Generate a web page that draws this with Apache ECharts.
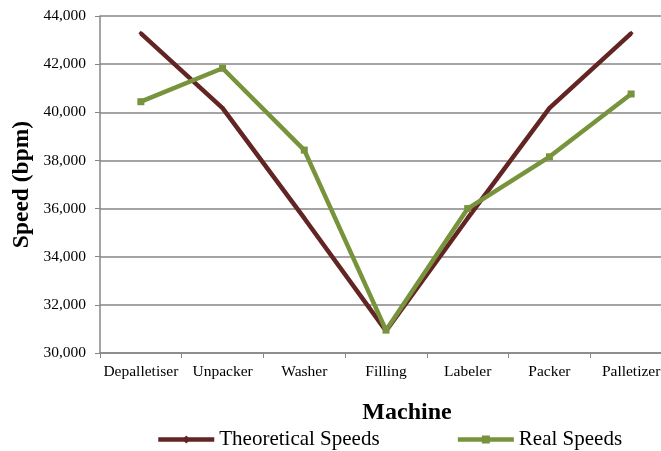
<!DOCTYPE html>
<html><head><meta charset="utf-8">
<script src="https://cdn.jsdelivr.net/npm/echarts@6/dist/echarts.min.js"></script>
<style>html,body{margin:0;padding:0;background:#fff}#c{width:661px;height:451px}</style>
</head><body><div id="c"></div>
<script>
const categories = ['Depalletiser','Unpacker','Washer','Filling','Labeler','Packer','Palletizer'];
const theoretical = [43280, 40170, 35600, 30920, 35600, 40170, 43280];
const real = [40440, 41830, 38430, 30950, 36000, 38150, 40760];
const yTicks = {min: 30000, max: 44000, interval: 2000};

const font = '"Liberation Serif","Times New Roman",serif';
const chart = echarts.init(document.getElementById('c'));
chart.setOption({
  animation: false,
  textStyle: {fontFamily: font},
  grid: {left: 100, top: 16, right: -11, bottom: 98, containLabel: false, outerBoundsMode: 'none'},
  legend: {
    top: 424, left: 151, itemGap: 76, itemWidth: 56, itemHeight: 10,
    lineStyle: {width: 4.5},
    textStyle: {fontFamily: font, fontSize: 21, color: '#000'},
    data: ['Theoretical Speeds', 'Real Speeds']
  },
  xAxis: {
    type: 'category', data: categories, boundaryGap: true,
    name: 'Machine', nameLocation: 'middle', nameGap: 48, nameMoveOverlap: false,
    nameTextStyle: {fontFamily: font, fontSize: 24, fontWeight: 'bold', color: '#000', padding: [0, 0, 0, 42]},
    axisLine: {lineStyle: {color: '#868686', width: 1.5}},
    axisTick: {show: true, length: 5, alignWithLabel: false, lineStyle: {color: '#868686'}},
    axisLabel: {fontFamily: font, fontSize: 15.5, color: '#000', margin: 11, interval: 0}
  },
  yAxis: {
    type: 'value', min: yTicks.min, max: yTicks.max, interval: yTicks.interval,
    name: 'Speed (bpm)', nameLocation: 'middle', nameGap: 66, nameMoveOverlap: false,
    nameTextStyle: {fontFamily: font, fontSize: 23.5, fontWeight: 'bold', color: '#000'},
    axisLine: {show: true, lineStyle: {color: '#868686', width: 1.5}},
    axisTick: {show: true, length: 5, lineStyle: {color: '#868686'}},
    splitLine: {lineStyle: {color: '#868686', width: 1.5}},
    axisLabel: {fontFamily: font, fontSize: 15.5, color: '#000', margin: 14,
      formatter: v => v.toLocaleString('en-US')}
  },
  series: [
    {name: 'Theoretical Speeds', type: 'line', data: theoretical,
     symbol: 'diamond', symbolSize: 5,
     lineStyle: {color: '#632523', width: 4.5},
     itemStyle: {color: '#632523'}},
    {name: 'Real Speeds', type: 'line', data: real,
     symbol: 'rect', symbolSize: 7,
     lineStyle: {color: '#77933C', width: 4.5},
     itemStyle: {color: '#77933C'}}
  ]
});
</script></body></html>
